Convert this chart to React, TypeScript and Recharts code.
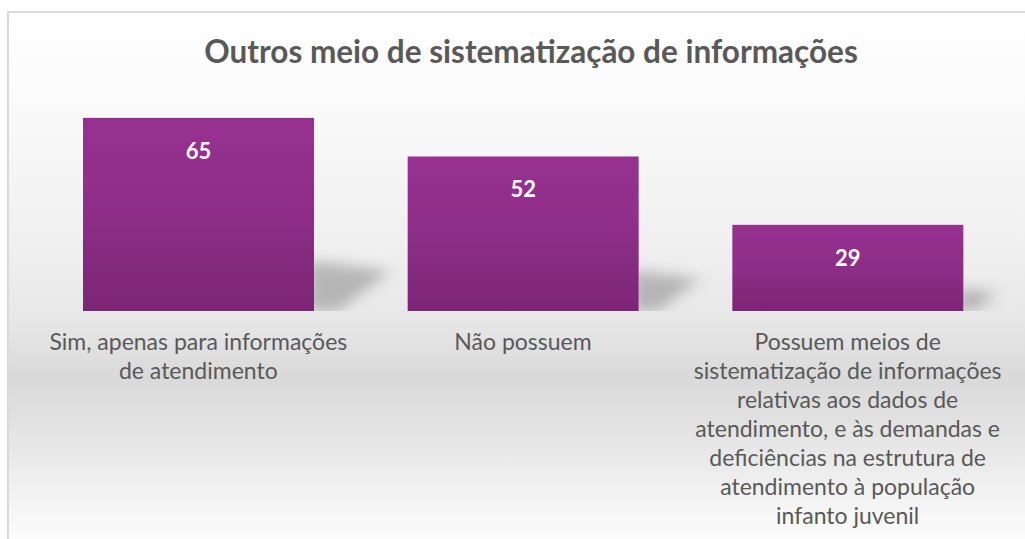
import { BarChart, Bar, XAxis, YAxis, LabelList } from "recharts";

const categories = [
  "Sim, apenas para informações\nde atendimento",
  "Não possuem",
  "Possuem meios de\nsistematização de informações\nrelativas aos dados de\natendimento, e às demandas e\ndeficiências na estrutura de\natendimento à população\ninfanto juvenil",
];
const values = [65, 52, 29];

const title = "Outros meio de sistematização de informações";

const data = categories.map((name, i) => ({ name, value: values[i] }));

const FONT = "Lato, 'Open Sans', sans-serif";
const TEXT_GRAY = "#595959";

// bar with a soft perspective shadow falling to the back-right
function ShadowBar(props: any) {
  const { x, y, width, height, index } = props;
  if (!height || height <= 0) return null;
  const right = x + width;
  const floor = y + height;
  const d = height * 0.26;
  const e = height * 0.4;
  const clipId = `floor-${index}`;
  return (
    <g>
      <clipPath id={clipId}>
        <rect x={right} y={0} width={200} height={floor} />
      </clipPath>
      <g clipPath={`url(#${clipId})`}>
        <polygon
          points={`${right - 6},${floor} ${right - 6},${floor - d} ${right + e},${floor - d * 0.8} ${right + e * 0.3},${floor}`}
          fill="#808080"
          opacity={0.5}
          filter="url(#shadowBlur)"
        />
      </g>
      <rect x={x} y={y} width={width} height={height} fill="url(#barGrad)" />
    </g>
  );
}

function CategoryTick(props: any) {
  const { x, y, payload } = props;
  const lines = String(payload.value).split("\n");
  return (
    <text
      x={x}
      y={y}
      textAnchor="middle"
      fill={TEXT_GRAY}
      fontFamily={FONT}
      fontSize={23}
    >
      {lines.map((line, i) => (
        <tspan key={i} x={x} dy={i === 0 ? 39 : 29}>
          {line}
        </tspan>
      ))}
    </text>
  );
}

function ValueLabel(props: any) {
  const { x, y, width, value } = props;
  return (
    <text
      x={x + width / 2}
      y={y + 41}
      textAnchor="middle"
      fill="#ffffff"
      fontFamily={FONT}
      fontWeight={700}
      fontSize={22}
    >
      {value}
    </text>
  );
}

export default function App() {
  return (
    <div
      style={{
        position: "absolute",
        left: 0,
        top: 0,
        width: 1025,
        height: 539,
        overflow: "hidden",
        background: "#ffffff",
      }}
    >
      {/* chart frame with the grey "floor" gradient */}
      <div
        style={{
          position: "absolute",
          left: 7,
          top: 11,
          width: 1040,
          height: 560,
          borderLeft: "2px solid #dadada",
          borderTop: "2px solid #dadada",
          background:
            "linear-gradient(to bottom, #ffffff 0px, #fafafa 90px, #f0f0f0 230px, #e8e8e8 300px, #e2e2e2 330px, #d9d9d9 365px, #e4e4e4 420px, #f2f2f2 480px, #fcfcfc 528px)",
        }}
      />
      <div
        style={{
          position: "absolute",
          left: 531,
          top: 32,
          transform: "translateX(-50%)",
          whiteSpace: "nowrap",
          fontFamily: FONT,
          fontWeight: 700,
          fontSize: 31.5,
          lineHeight: "38px",
          color: TEXT_GRAY,
        }}
      >
        {title}
      </div>
      <div style={{ position: "absolute", left: 0, top: 0 }}>
        <BarChart
          width={1025}
          height={539}
          data={data}
          margin={{ top: 103, right: 15, bottom: 28, left: 36 }}
        >
          <defs>
            <linearGradient id="barGrad" x1="0" y1="0" x2="0" y2="1">
              <stop offset="0%" stopColor="#963190" />
              <stop offset="45%" stopColor="#8f2e89" />
              <stop offset="100%" stopColor="#7c2676" />
            </linearGradient>
            <filter id="shadowBlur" x="-50%" y="-50%" width="200%" height="200%">
              <feGaussianBlur stdDeviation="7" />
            </filter>
          </defs>
          <XAxis
            dataKey="name"
            height={200}
            interval={0}
            tickLine={false}
            axisLine={false}
            tickSize={0}
            tickMargin={0}
            tick={<CategoryTick />}
          />
          <YAxis hide domain={[0, 70]} />
          <Bar
            dataKey="value"
            barSize={231}
            shape={<ShadowBar />}
            isAnimationActive={false}
          >
            <LabelList dataKey="value" content={<ValueLabel />} />
          </Bar>
        </BarChart>
      </div>
    </div>
  );
}
